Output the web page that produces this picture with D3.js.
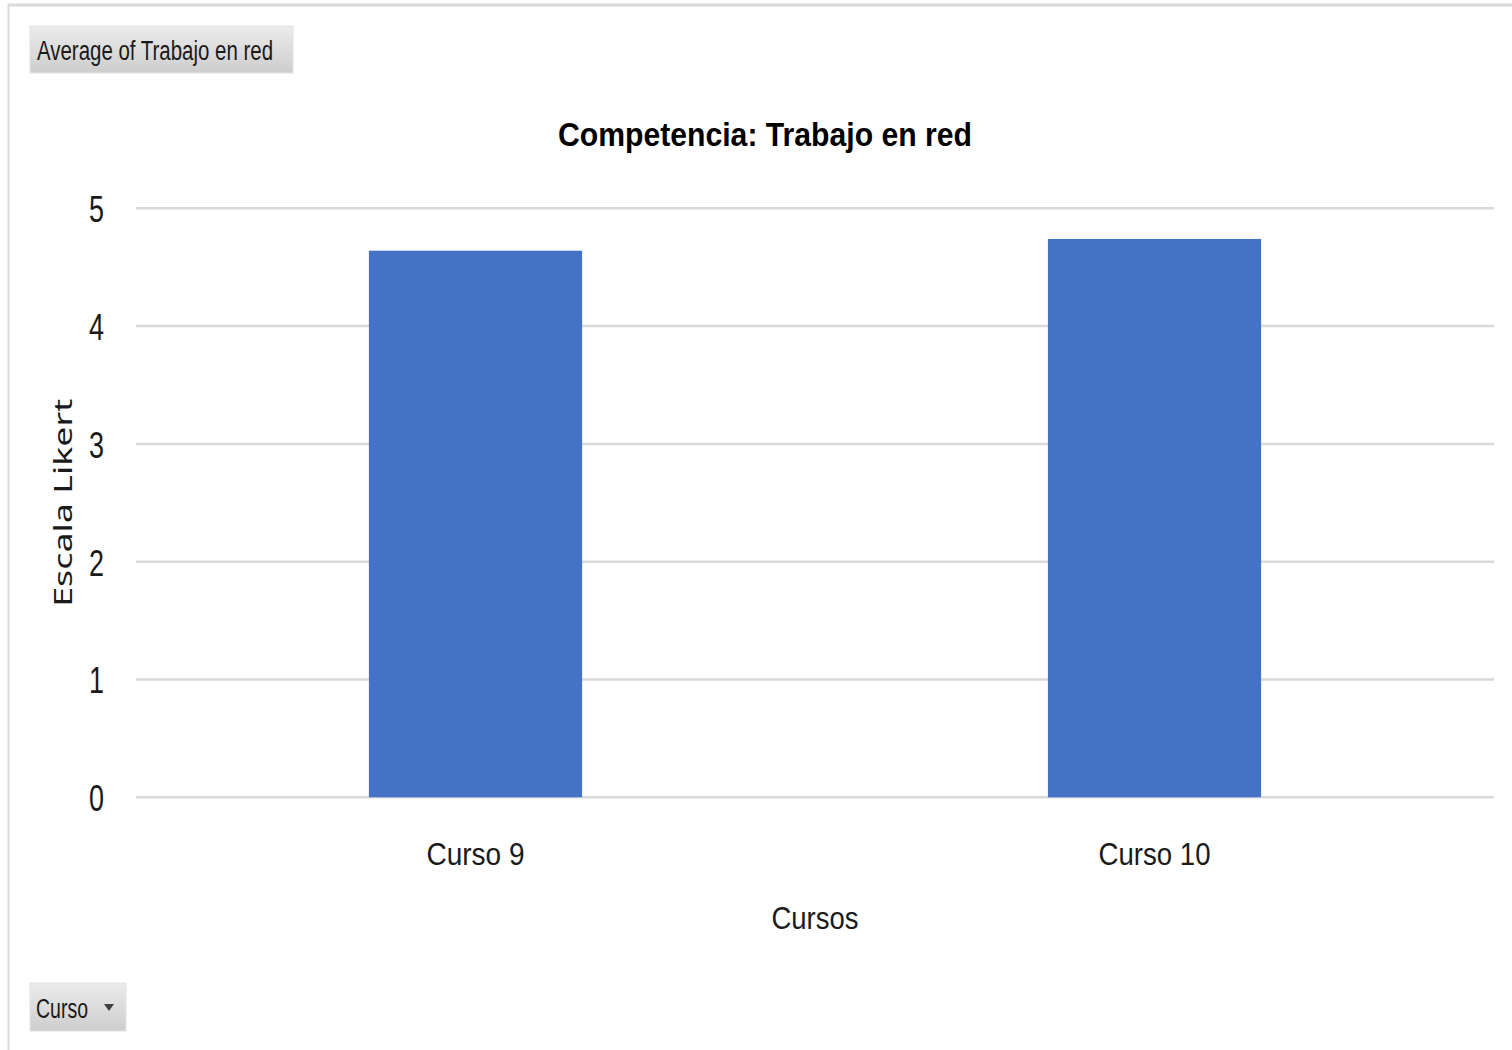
<!DOCTYPE html>
<html>
<head>
<meta charset="utf-8">
<script src="https://cdn.jsdelivr.net/npm/d3@7"></script>
<style>
  html, body { margin: 0; padding: 0; background: #fff; }
  svg { display: block; }
</style>
</head>
<body>
<script>
// ---- data ----
const categories = ["Curso 9", "Curso 10"];
const values = [4.64, 4.74];
const yTicks = [0, 1, 2, 3, 4, 5];
const chartTitle = "Competencia: Trabajo en red";
const xAxisTitle = "Cursos";
const yAxisTitle = "Escala Likert";
const fieldButton = "Average of Trabajo en red";
const axisButton = "Curso";

// ---- layout ----
const W = 1512, H = 1050;
const plot = { left: 136, right: 1494, top: 208.3, bottom: 797.3 };
const narrow = "'Liberation Sans Narrow', 'Arial Narrow', 'Liberation Sans', sans-serif";

const svg = d3.select("body").append("svg")
  .attr("width", W).attr("height", H);

svg.append("rect").attr("width", W).attr("height", H).attr("fill", "#fff");

// outer chart border (top and left visible)
svg.append("line").attr("x1", 8).attr("x2", W).attr("y1", 5).attr("y2", 5)
  .attr("stroke", "#d9d9d9").attr("stroke-width", 3);
svg.append("line").attr("x1", 8.5).attr("x2", 8.5).attr("y1", 4).attr("y2", H)
  .attr("stroke", "#d9d9d9").attr("stroke-width", 2);

// gradient for buttons
const defs = svg.append("defs");
const g = defs.append("linearGradient").attr("id", "btn").attr("x1", 0).attr("x2", 0).attr("y1", 0).attr("y2", 1);
g.append("stop").attr("offset", "0%").attr("stop-color", "#ececec");
g.append("stop").attr("offset", "100%").attr("stop-color", "#cdcdcd");

// scales
const x = d3.scaleBand().domain(categories).range([plot.left, plot.right])
  .paddingInner(0.686).paddingOuter(0.343);
const y = d3.scaleLinear().domain([0, 5]).range([plot.bottom, plot.top]);

// gridlines
svg.append("g").selectAll("line").data(yTicks).join("line")
  .attr("x1", plot.left).attr("x2", plot.right)
  .attr("y1", d => y(d)).attr("y2", d => y(d))
  .attr("stroke", "#d9d9d9").attr("stroke-width", 2.5);

// y tick labels via axis
const yAxis = svg.append("g").attr("transform", `translate(${plot.left},0)`)
  .call(d3.axisLeft(y).tickValues(yTicks).tickSize(0).tickPadding(32).tickFormat(d3.format("d")));
yAxis.select(".domain").remove();
yAxis.selectAll("text")
  .attr("font-family", narrow).attr("font-size", 37).attr("fill", "#1a1a1a")
  .attr("dy", "0.36em")
  .attr("textLength", 15).attr("lengthAdjust", "spacingAndGlyphs");

// bars
svg.append("g").selectAll("rect").data(values).join("rect")
  .attr("x", (d, i) => x(categories[i]))
  .attr("width", x.bandwidth())
  .attr("y", d => y(d))
  .attr("height", d => y(0) - y(d))
  .attr("fill", "#4472c4");

// x axis labels
const xAxis = svg.append("g").attr("transform", `translate(0,${plot.bottom})`)
  .call(d3.axisBottom(x).tickSize(0).tickPadding(45));
xAxis.select(".domain").remove();
xAxis.selectAll("text")
  .attr("font-family", narrow).attr("font-size", 32).attr("fill", "#1a1a1a")
  .attr("dy", "0.71em")
  .attr("textLength", d => d.length * 14)
  .attr("lengthAdjust", "spacingAndGlyphs");

// title
svg.append("text").attr("x", (plot.left + plot.right) / 2 - 50).attr("y", 146)
  .attr("text-anchor", "middle")
  .attr("font-family", narrow).attr("font-weight", "bold").attr("font-size", 33)
  .attr("fill", "#000")
  .attr("textLength", 414).attr("lengthAdjust", "spacingAndGlyphs")
  .text(chartTitle);

// x axis title
svg.append("text").attr("x", (plot.left + plot.right) / 2).attr("y", 929)
  .attr("text-anchor", "middle")
  .attr("font-family", narrow).attr("font-size", 32).attr("fill", "#1a1a1a")
  .attr("textLength", 87).attr("lengthAdjust", "spacingAndGlyphs")
  .text(xAxisTitle);

// y axis title
svg.append("text")
  .attr("transform", `translate(72,${(plot.top + plot.bottom) / 2}) rotate(-90)`)
  .attr("text-anchor", "middle")
  .attr("font-family", "'Noto Sans', 'DejaVu Sans', sans-serif").attr("font-size", 26).attr("fill", "#1a1a1a")
  .attr("textLength", 208).attr("lengthAdjust", "spacingAndGlyphs")
  .text(yAxisTitle);

// field button (top)
svg.append("rect").attr("x", 30).attr("y", 26).attr("width", 263).attr("height", 47)
  .attr("fill", "url(#btn)").attr("stroke", "#e2e2e2").attr("stroke-width", 1);
svg.append("text").attr("x", 37).attr("y", 60)
  .attr("font-family", narrow).attr("font-size", 27).attr("fill", "#1a1a1a")
  .attr("textLength", 236).attr("lengthAdjust", "spacingAndGlyphs")
  .text(fieldButton);

// axis field button (bottom)
svg.append("rect").attr("x", 30).attr("y", 983).attr("width", 96).attr("height", 48)
  .attr("fill", "url(#btn)").attr("stroke", "#e2e2e2").attr("stroke-width", 1);
svg.append("text").attr("x", 36).attr("y", 1018)
  .attr("font-family", narrow).attr("font-size", 27).attr("fill", "#1a1a1a")
  .attr("textLength", 52).attr("lengthAdjust", "spacingAndGlyphs")
  .text(axisButton);
svg.append("path").attr("d", "M104,1004 L114,1004 L109,1011 Z").attr("fill", "#404040");
</script>
</body>
</html>
